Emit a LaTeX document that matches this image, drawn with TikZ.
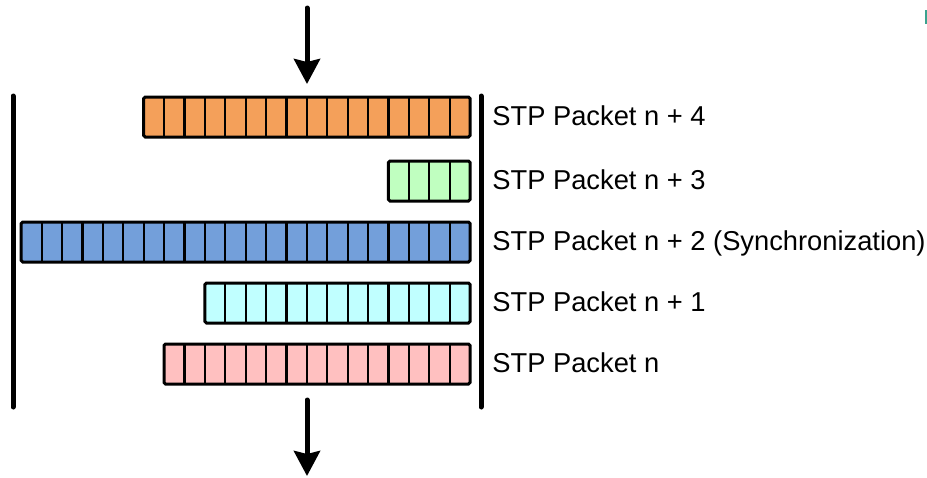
\documentclass[tikz,border=0pt]{standalone}
\usepackage{fontspec}
\setmainfont{Liberation Sans}
\usetikzlibrary{arrows.meta}

\definecolor{pkorange}{RGB}{244,160,90}
\definecolor{pkgreen}{RGB}{192,255,192}
\definecolor{pkblue}{RGB}{115,159,218}
\definecolor{pkcyan}{RGB}{192,255,255}
\definecolor{pkpink}{RGB}{255,192,192}
\definecolor{marker}{RGB}{58,163,143}

% one STP packet: name, number of cells, centre y, fill, label, label baseline y
\newcommand\stppacket[6]{%
  \node[packet, fill=#4, minimum width=#2*10.2pt] (#1) at (470,#3) {};
  \pgfmathtruncatemacro\lastcell{#2-1}%
  \foreach \i in {1,...,\lastcell}
    \draw[cell] ([xshift=-\i*10.2pt]#1.north east) -- ([xshift=-\i*10.2pt]#1.south east);
  \node[pktlabel] (#1-label) at (492,#6) {#5};
}

\begin{document}
\begin{tikzpicture}[x=0.5pt,y=-0.5pt,
  packet/.style={draw=black, line width=1.5pt, rounded corners=0.8pt,
    inner sep=0pt, outer sep=0pt, minimum height=20pt, anchor=east},
  cell/.style={draw=black, line width=1.1pt},
  pktlabel/.style={anchor=base west, inner sep=0pt,
    font=\fontsize{13.65pt}{16pt}\selectfont},
  bar/.style={line width=2.5pt, line cap=round},
  flow/.style={line width=2.5pt, line cap=round,
    -{Stealth[length=12.5pt, width=13pt, inset=1.5pt]}}]

\useasboundingbox (0,0) rectangle (927,477);

% packets, newest on top
\stppacket{pk4}{16}{117}{pkorange}{STP Packet n + 4}{125}
\stppacket{pk3}{4}{181}{pkgreen}{STP Packet n + 3}{189}
\stppacket{pk2}{22}{242}{pkblue}{STP Packet n + 2 (Synchronization)}{250}
\stppacket{pk1}{13}{303}{pkcyan}{STP Packet n + 1}{311}
\stppacket{pk0}{15}{364}{pkpink}{STP Packet n}{372}

% side bars of the buffer
\coordinate (lbtop) at (13,96);
\coordinate (lbbot) at (13,407);
\coordinate (rbtop) at (481,96);
\coordinate (rbbot) at (481,407);
\draw[bar] (lbtop) -- (lbbot);
\draw[bar] (rbtop) -- (rbbot);

% flow in and out
\coordinate (inA) at (307,8);
\coordinate (inB) at (307,84);
\coordinate (outA) at (307,400);
\coordinate (outB) at (307,476);
\draw[flow] (inA) -- (inB);
\draw[flow] (outA) -- (outB);

% small mark at the top right edge
\fill[marker] (925,10) rectangle (927,24);
\end{tikzpicture}
\end{document}
